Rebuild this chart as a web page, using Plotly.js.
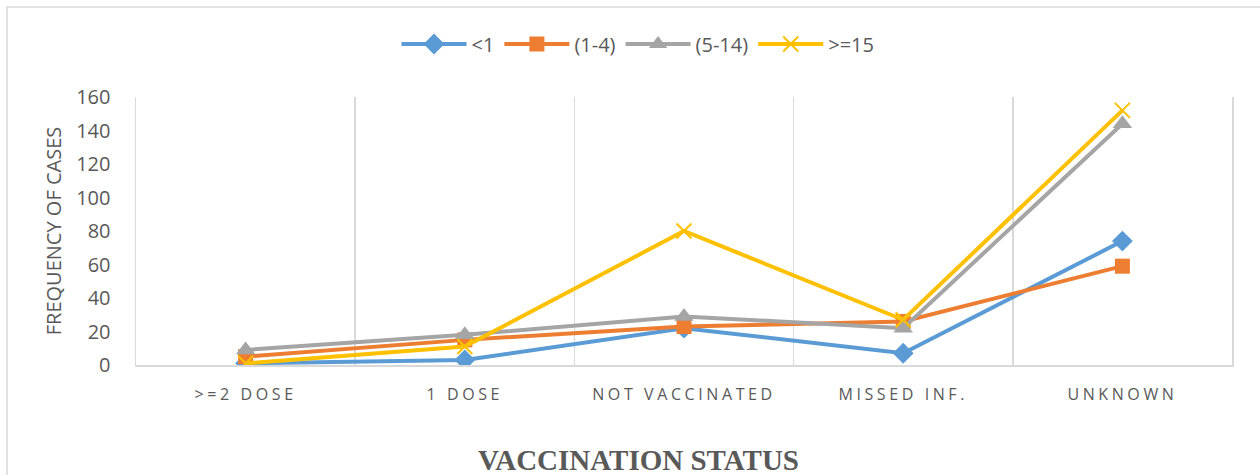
<!DOCTYPE html>
<html>
<head>
<meta charset="utf-8">
<script src="https://cdn.plot.ly/plotly-3.0.1.min.js"></script>
<style>
  html, body { margin: 0; padding: 0; background: #ffffff; }
  #chart { width: 1260px; height: 475px; }
  .xtick text { letter-spacing: 3.6px; }
</style>
</head>
<body>
<div id="chart"></div>
<script>
const categories = [">=2 DOSE", "1 DOSE", "NOT VACCINATED", "MISSED INF.", "UNKNOWN"];
const seriesNames = ["<1", "(1-4)", "(5-14)", ">=15"];
const under1 = [1, 3, 22, 7, 74];
const age1to4 = [5, 15, 23, 26, 59];
const age5to14 = [9, 18, 29, 22, 144];
const age15plus = [1, 11, 80, 27, 152];
const yTickValues = [0, 20, 40, 60, 80, 100, 120, 140, 160];
const xTitle = "VACCINATION STATUS";
const yTitle = "FREQUENCY OF CASES";

const colors = ["#5B9BD5", "#ED7D31", "#A5A5A5", "#FFC000"];
const symbols = ["diamond", "square", "triangle-up", "x-thin"];
const sizes = [16, 15, 17, 15];
const allValues = [under1, age1to4, age5to14, age15plus];

const traces = allValues.map((vals, i) => ({
  type: "scatter",
  mode: "lines+markers",
  name: seriesNames[i],
  x: categories,
  y: vals,
  line: { color: colors[i], width: 4 },
  marker: {
    symbol: symbols[i],
    size: sizes[i],
    color: colors[i],
    line: { color: colors[i], width: i === 3 ? 2 : 0 }
  }
}));

const L = 136, R = 28, T = 97, B = 110, W = 1260, H = 475;
const pw = W - L - R, ph = H - T - B;
const px = v => (v - L) / pw;
const py = v => (H - B - v) / ph;

const layout = {
  width: W,
  height: H,
  margin: { l: L, r: R, t: T, b: B },
  paper_bgcolor: "#ffffff",
  plot_bgcolor: "#ffffff",
  font: { family: "Open Sans, sans-serif", color: "#595959" },
  showlegend: true,
  legend: {
    orientation: "h",
    x: px(638), xanchor: "center",
    y: py(44), yanchor: "middle",
    font: { size: 20, color: "#595959" },
    itemwidth: 65,
    traceorder: "normal"
  },
  xaxis: {
    type: "category",
    range: [-0.5, 4.5],
    tickson: "boundaries",
    showgrid: true,
    gridcolor: "#d9d9d9",
    gridwidth: 1.5,
    showline: true,
    linecolor: "#d9d9d9",
    linewidth: 1.5,
    ticks: "",
    zeroline: false,
    tickfont: { size: 16, color: "#595959" },
    ticklabelstandoff: 14,
    fixedrange: true
  },
  yaxis: {
    range: [0, 160],
    tickvals: yTickValues,
    showgrid: false,
    zeroline: false,
    showline: true,
    mirror: true,
    linecolor: "#d9d9d9",
    linewidth: 1.5,
    ticks: "",
    tickfont: { size: 20, color: "#595959" },
    ticklabelstandoff: 20,
    title: {
      text: yTitle,
      font: { size: 20, color: "#595959" },
      standoff: 9
    },
    fixedrange: true
  },
  annotations: [{
    xref: "paper", yref: "paper",
    x: px(638), y: py(460),
    xanchor: "center", yanchor: "middle",
    showarrow: false,
    text: "<b>" + xTitle + "</b>",
    font: { family: "Liberation Serif, Times New Roman, serif", size: 29, color: "#595959" }
  }],
  shapes: [{
    type: "rect",
    xref: "paper", yref: "paper",
    x0: px(7), x1: px(1275),
    y0: py(490), y1: py(7),
    line: { color: "#d9d9d9", width: 1.5 },
    fillcolor: "rgba(0,0,0,0)",
    layer: "below"
  }]
};

Plotly.newPlot("chart", traces, layout, { displayModeBar: false, staticPlot: true });
</script>
</body>
</html>
